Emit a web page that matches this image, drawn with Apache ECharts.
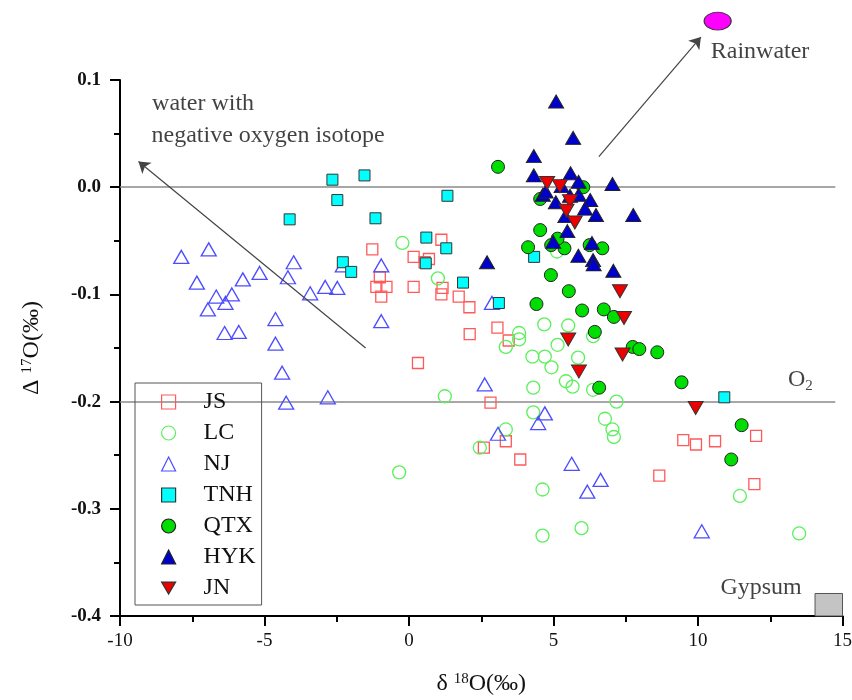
<!DOCTYPE html>
<html><head><meta charset="utf-8">
<script src="https://cdn.jsdelivr.net/npm/echarts@6/dist/echarts.min.js"></script>
<style>html,body{margin:0;padding:0;background:#fff}#c{width:852px;height:700px}</style>
</head><body><div id="c"></div>
<script>
const seriesNames = ['JS','LC','NJ','TNH','QTX','HYK','JN'];
const JS = [[-1.27,-0.058],[-1.01,-0.084],[-1.13,-0.093],[-0.78,-0.093],[-0.96,-0.102],[0.16,-0.065],[0.16,-0.093],[0.69,-0.067],[0.54,-0.070],[1.12,-0.049],[1.16,-0.094],[1.12,-0.100],[1.72,-0.102],[2.09,-0.112],[2.10,-0.137],[3.06,-0.131],[0.31,-0.164],[3.45,-0.143],[2.82,-0.201],[3.35,-0.237],[2.59,-0.243],[3.85,-0.254],[9.49,-0.236],[9.93,-0.240],[10.59,-0.237],[12.01,-0.232],[8.66,-0.269],[11.95,-0.277]];
const LC = [[-0.23,-0.052],[1.0,-0.085],[3.35,-0.149],[-0.34,-0.266],[1.24,-0.195],[3.81,-0.136],[3.81,-0.142],[4.68,-0.128],[5.51,-0.129],[5.14,-0.147],[4.27,-0.158],[4.70,-0.158],[4.93,-0.168],[5.85,-0.159],[5.43,-0.181],[5.66,-0.186],[4.30,-0.187],[6.37,-0.139],[6.37,-0.189],[7.18,-0.200],[4.30,-0.210],[6.78,-0.216],[7.04,-0.226],[7.09,-0.233],[3.35,-0.226],[2.45,-0.243],[4.62,-0.282],[4.62,-0.325],[5.97,-0.318],[11.45,-0.288],[13.5,-0.323],[5.12,-0.060]];
const NJ = [[-7.88,-0.065],[-6.93,-0.058],[-7.34,-0.089],[-6.67,-0.102],[-6.35,-0.108],[-6.13,-0.100],[-6.96,-0.114],[-6.38,-0.136],[-5.89,-0.135],[-5.75,-0.086],[-5.17,-0.080],[-4.19,-0.084],[-3.99,-0.070],[-3.42,-0.099],[-2.90,-0.093],[-2.48,-0.094],[-4.62,-0.123],[-4.62,-0.146],[-4.39,-0.173],[-4.25,-0.201],[-2.81,-0.196],[-2.29,-0.073],[-0.96,-0.073],[-0.96,-0.125],[2.87,-0.108],[2.62,-0.184],[4.70,-0.211],[4.47,-0.220],[3.08,-0.230],[5.63,-0.258],[6.17,-0.284],[6.63,-0.273],[10.13,-0.321]];
const TNH = [[-2.65,0.007],[-1.54,0.011],[-2.48,-0.012],[-4.13,-0.030],[-1.16,-0.029],[-2.29,-0.070],[-2.0,-0.079],[0.60,-0.047],[0.58,-0.071],[1.33,-0.008],[1.29,-0.057],[1.87,-0.089],[3.11,-0.108],[4.33,-0.065],[10.91,-0.196]];
const QTX = [[3.08,0.019],[4.54,-0.011],[6.03,0.000],[4.54,-0.040],[4.12,-0.056],[4.92,-0.054],[5.38,-0.057],[6.25,-0.054],[6.69,-0.057],[5.14,-0.048],[4.91,-0.082],[5.53,-0.097],[4.41,-0.109],[5.99,-0.115],[6.74,-0.114],[7.09,-0.121],[6.43,-0.135],[6.58,-0.187],[7.74,-0.149],[7.97,-0.151],[8.59,-0.154],[9.43,-0.182],[11.51,-0.222],[11.15,-0.254]];
const HYK = [[5.09,0.080],[5.68,0.046],[4.32,0.029],[4.32,0.011],[5.59,0.013],[5.87,0.005],[7.04,0.003],[5.28,0.001],[4.63,-0.007],[4.73,-0.004],[5.08,-0.014],[5.57,-0.008],[5.87,-0.007],[6.27,-0.012],[6.09,-0.020],[6.47,-0.026],[7.76,-0.026],[5.41,-0.027],[5.48,-0.041],[4.99,-0.051],[6.33,-0.052],[5.86,-0.064],[6.37,-0.068],[6.39,-0.072],[2.70,-0.070],[7.07,-0.078]];
const JN = [[4.78,0.004],[5.22,0.001],[5.57,-0.013],[5.45,-0.022],[5.74,-0.033],[7.30,-0.097],[7.44,-0.122],[5.51,-0.142],[5.88,-0.172],[7.39,-0.156],[9.92,-0.206]];
const xRange = [-10, 15, 5];
const yRange = [-0.4, 0.1, 0.1];
const refLineYs = [0, -0.2];
const refLineXs = [-10, 14.75];
const rainwater = [[10.68, 0.155]];
const arrows = [[[-1.5,-0.150],[-9.36,0.024]], [[6.57,0.0285],[10.1,0.140]]];
const gypsumBox = [[14.05,-0.379],[15,-0.4]];
const noteTexts = ['water with','negative oxygen isotope','Rainwater','O{s|2}','Gypsum'];
const notePos = [[-8.89,0.078],[-8.91,0.048],[10.44,0.1265],[13.11,-0.180],[13.59,-0.374]];
const noteAlign = ['right','right','right','right','left'];

const FF = '"Liberation Serif","Times New Roman",serif';
const DOWN_TRI = 'path://M0,0L20,0L10,17Z';
const styles = {
  JS:{symbol:'rect',size:11,rot:0,item:{color:'rgba(0,0,0,0)',borderColor:'#ff5a5a',borderWidth:1.3,opacity:1}},
  LC:{symbol:'circle',size:13,rot:0,item:{color:'rgba(0,0,0,0)',borderColor:'#5cf05c',borderWidth:1.3,opacity:1}},
  NJ:{symbol:'triangle',size:[15,13],rot:0,item:{color:'rgba(0,0,0,0)',borderColor:'#4d4dff',borderWidth:1.3,opacity:1}},
  TNH:{symbol:'rect',size:11,rot:0,item:{color:'#00ffff',borderColor:'#333',borderWidth:1,opacity:1}},
  QTX:{symbol:'circle',size:13,rot:0,item:{color:'#00dd00',borderColor:'#222',borderWidth:1,opacity:1}},
  HYK:{symbol:'triangle',size:[15,13],rot:0,item:{color:'#0000cc',borderColor:'#222',borderWidth:1,opacity:1}},
  JN:{symbol:'triangle',size:[15,13],rot:180,item:{color:'#ee0000',borderColor:'#333',borderWidth:1,opacity:1}}
};
const dataMap = {JS,LC,NJ,TNH,QTX,HYK,JN};

const chart = echarts.init(document.getElementById('c'));
const series = [];
series.push({
  type:'lines', coordinateSystem:'cartesian2d', z:1, silent:true, symbol:'none',
  lineStyle:{color:'#8a8a8a', width:1.5, opacity:1},
  data: refLineYs.map(y => ({coords: refLineXs.map(x => [x, y])}))
});
series.push({
  type:'lines', coordinateSystem:'cartesian2d', z:3, silent:true, clip:false,
  symbol:['none','arrow'], symbolSize:11,
  lineStyle:{color:'#444', width:1.2, opacity:1},
  data: arrows.map(a => ({coords:a}))
});
seriesNames.forEach(n => {
  const s = styles[n];
  series.push({name:n, type:'scatter', z:2, data:dataMap[n], symbol:s.symbol, symbolSize:s.size,
    symbolRotate:s.rot, itemStyle:s.item, emphasis:{disabled:true}});
});
series.push({
  type:'scatter', z:4, clip:false, data:rainwater, symbol:'circle', symbolSize:[27,18],
  itemStyle:{color:'#ff00ff', borderColor:'#333', borderWidth:1, opacity:1}, silent:true
});
series.push({
  type:'scatter', z:4, clip:false, silent:true, symbolSize:0,
  data: noteTexts.map((t,i) => ({name:t, value:notePos[i], label:{position:noteAlign[i]}})),
  label:{show:true, formatter:'{b}', distance:0, fontFamily:FF, fontSize:24, color:'#111',
    rich:{s:{fontFamily:FF, fontSize:15, color:'#111', verticalAlign:'bottom', padding:[12,0,0,0]}}},
  markArea:{silent:true, itemStyle:{color:'#c4c4c4', borderColor:'#555', borderWidth:1, opacity:1},
    data:[[{coord:gypsumBox[0]},{coord:gypsumBox[1]}]]}
});

chart.setOption({
  animation:false,
  grid:{left:120, right:9.5, top:80, bottom:84, containLabel:false, outerBoundsMode:'none'},
  legend:{data:seriesNames.map(n => n === 'JN' ? {name:n, icon:DOWN_TRI} : {name:n}),
    orient:'vertical', left:135, top:383, padding:[7,6,5,26],
    itemWidth:14, itemHeight:14, itemGap:7, borderColor:'#555', borderWidth:1,
    symbolKeepAspect:true,
    textStyle:{fontFamily:FF, fontSize:24, color:'#111', padding:[0,0,0,23]},
    itemStyle:{borderWidth:1.2}, selectedMode:false},
  xAxis:{type:'value', min:xRange[0], max:xRange[1], interval:xRange[2],
    axisLine:{onZero:false, lineStyle:{color:'#000', width:2}},
    axisTick:{inside:false, length:10, lineStyle:{color:'#000', width:2}},
    minorTick:{show:true, splitNumber:2, length:6, lineStyle:{color:'#000', width:2}},
    splitLine:{show:false},
    axisLabel:{fontFamily:FF, fontSize:19, color:'#111', margin:16},
    name:'δ {s|18}O(‰)', nameLocation:'middle', nameGap:56,
    nameTextStyle:{fontFamily:FF, fontSize:24, color:'#111',
      rich:{s:{fontFamily:FF, fontSize:15, color:'#111', verticalAlign:'top'}}}},
  yAxis:{type:'value', min:yRange[0], max:yRange[1], interval:yRange[2],
    axisLine:{onZero:false, lineStyle:{color:'#000', width:2}},
    axisTick:{inside:false, length:10, lineStyle:{color:'#000', width:2}},
    minorTick:{show:true, splitNumber:2, length:6, lineStyle:{color:'#000', width:2}},
    splitLine:{show:false},
    axisLabel:{fontFamily:FF, fontSize:19, fontWeight:'bold', color:'#111', margin:19,
      formatter: v => v.toFixed(1)},
    name:'Δ {s|17}O(‰)', nameLocation:'middle', nameGap:76, nameRotate:90,
    nameTextStyle:{fontFamily:FF, fontSize:24, color:'#111',
      rich:{s:{fontFamily:FF, fontSize:15, color:'#111', verticalAlign:'top'}}}},
  series
});
</script></body></html>
